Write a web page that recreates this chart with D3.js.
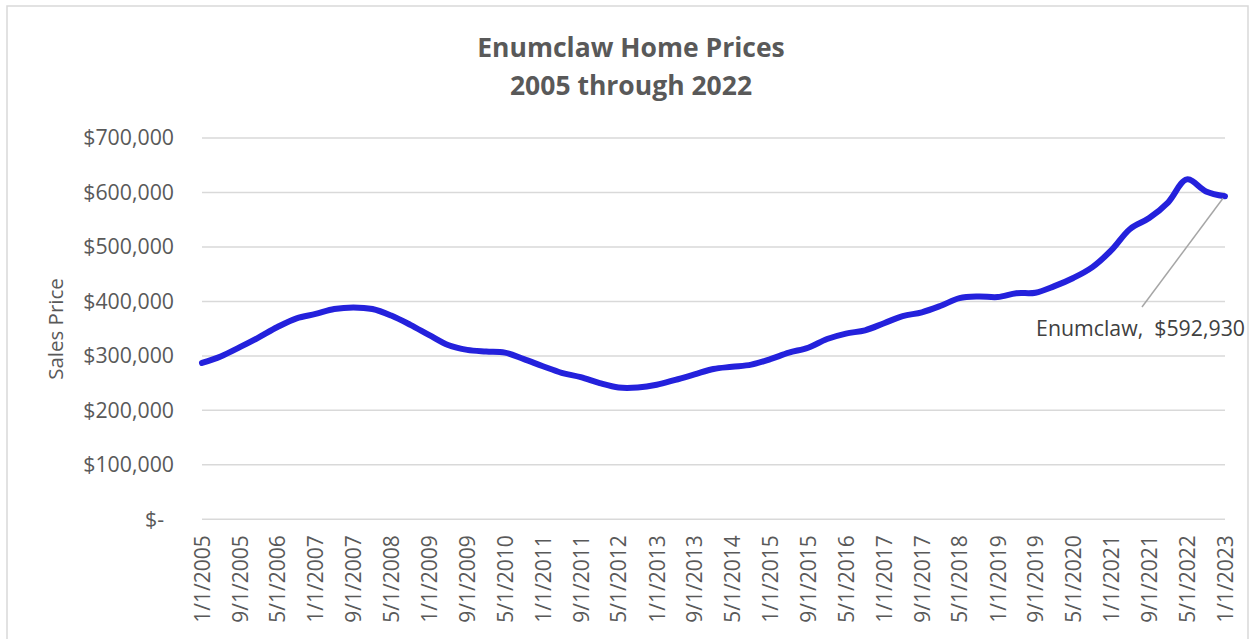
<!DOCTYPE html>
<html><head><meta charset="utf-8">
<script src="https://cdn.jsdelivr.net/npm/d3@7"></script>
<style>body{margin:0;background:#fff}svg{display:block}text{font-family:"Open Sans",sans-serif}</style>
</head><body><svg id="c" width="1253" height="639"></svg>
<script>
// Data: sale price sampled every 4 months from 1/1/2005 to 1/1/2023
const dates = [
"2005-01-01","2005-05-01","2005-09-01","2006-01-01","2006-05-01","2006-09-01","2007-01-01","2007-05-01","2007-09-01",
"2008-01-01","2008-05-01","2008-09-01","2009-01-01","2009-05-01","2009-09-01","2010-01-01","2010-05-01","2010-09-01",
"2011-01-01","2011-05-01","2011-09-01","2012-01-01","2012-05-01","2012-09-01","2013-01-01","2013-05-01","2013-09-01",
"2014-01-01","2014-05-01","2014-09-01","2015-01-01","2015-05-01","2015-09-01","2016-01-01","2016-05-01","2016-09-01",
"2017-01-01","2017-05-01","2017-09-01","2018-01-01","2018-05-01","2018-09-01","2019-01-01","2019-05-01","2019-09-01",
"2020-01-01","2020-05-01","2020-09-01","2021-01-01","2021-05-01","2021-09-01","2022-01-01","2022-05-01","2022-09-01","2023-01-01"];
const prices = [
287000,299000,316000,334000,353000,369000,377000,386000,389000,
386000,374000,357000,338000,320000,311000,308000,306000,294000,
281000,269000,261000,250000,242000,242000,247000,256000,266000,
276000,280000,284000,294000,306000,315000,331000,341000,347000,
360000,373000,380000,392000,406000,409000,408000,415000,416000,
428000,443000,463000,494000,533000,553000,582000,624000,602000,592930];
const yTicks = [0,100000,200000,300000,400000,500000,600000,700000];
const xTickLabels = ["1/1/2005","9/1/2005","5/1/2006","1/1/2007","9/1/2007","5/1/2008","1/1/2009","9/1/2009","5/1/2010",
"1/1/2011","9/1/2011","5/1/2012","1/1/2013","9/1/2013","5/1/2014","1/1/2015","9/1/2015","5/1/2016","1/1/2017",
"9/1/2017","5/1/2018","1/1/2019","9/1/2019","5/1/2020","1/1/2021","9/1/2021","5/1/2022","1/1/2023"];
const titleLines = ["Enumclaw Home Prices","2005 through 2022"];
const seriesName = "Enumclaw";

const svg = d3.select("#c");
const parse = d3.timeParse("%Y-%m-%d");
const parseTick = d3.timeParse("%m/%d/%Y");
const data = dates.map((d,i)=>({date:parse(d), v:prices[i]}));

const x = d3.scaleTime().domain([parse("2005-01-01"), parse("2023-01-01")]).range([202,1225]);
const y = d3.scaleLinear().domain([0,700000]).range([519.3,138]);

// chart border
svg.append("rect").attr("x",7).attr("y",6).attr("width",1241).attr("height",650)
  .attr("fill","none").attr("stroke","#d9d9d9").attr("stroke-width",1.5);

// title
svg.append("g").selectAll("text").data(titleLines).join("text")
  .attr("x",631).attr("y",(d,i)=>57+i*38).attr("text-anchor","middle")
  .attr("font-size",26.5).attr("font-weight","bold").attr("fill","#595959").text(d=>d);

// gridlines
svg.append("g").selectAll("line").data(yTicks).join("line")
  .attr("x1",202).attr("x2",1225).attr("y1",d=>y(d)).attr("y2",d=>y(d))
  .attr("stroke","#d9d9d9").attr("stroke-width",1.5);

// y axis labels
const fmt = d3.format("$,");
const yAxis = d3.axisLeft(y).tickValues(yTicks).tickSize(0).tickPadding(28)
  .tickFormat(d=> d===0 ? "$-" : fmt(d));
const gy = svg.append("g").attr("transform","translate(202,0)").call(yAxis);
gy.select(".domain").remove();
gy.selectAll("text").attr("font-family","Open Sans").attr("font-size",21.3).attr("fill","#595959")
  .attr("dx",d=>d===0?-10:0);

// x axis labels
const xAxis = d3.axisBottom(x).tickValues(xTickLabels.map(s=>parseTick(s))).tickSize(0)
  .tickFormat((d,i)=>xTickLabels[i]);
const gx = svg.append("g").attr("transform","translate(0,519.3)").call(xAxis);
gx.select(".domain").remove();
gx.selectAll("text").attr("font-family","Open Sans").attr("font-size",21).attr("fill","#595959")
  .attr("transform","rotate(-90)").attr("text-anchor","end").attr("x",-16).attr("y",0).attr("dy","0.35em");

// y title
svg.append("text").attr("transform","translate(63,329) rotate(-90)").attr("text-anchor","middle")
  .attr("font-size",20.5).attr("fill","#595959").text("Sales Price");

// line
const line = d3.line().x(d=>x(d.date)).y(d=>y(d.v)).curve(d3.curveCatmullRom.alpha(0.5));
svg.append("path").datum(data).attr("d",line).attr("fill","none")
  .attr("stroke","#2421dc").attr("stroke-width",6).attr("stroke-linejoin","round").attr("stroke-linecap","round");

// data label
const last = data[data.length-1];
svg.append("line").attr("x1",x(last.date)-2).attr("y1",y(last.v)+2).attr("x2",1142).attr("y2",307)
  .attr("stroke","#a6a6a6").attr("stroke-width",1.5);
svg.append("text").attr("x",1245).attr("y",336).attr("text-anchor","end")
  .attr("font-size",21.3).attr("fill","#404040").attr("xml:space","preserve")
  .text(seriesName + ",  " + d3.format("$,")(last.v));
</script></body></html>
